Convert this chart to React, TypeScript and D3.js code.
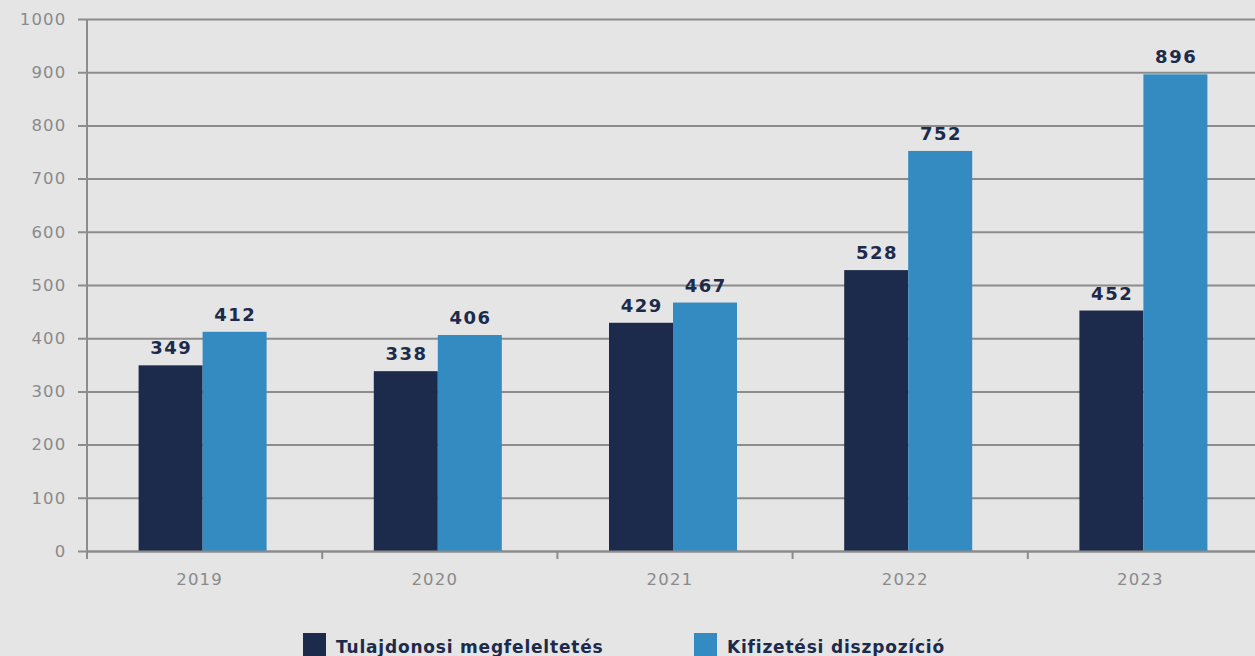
import React, { useEffect, useRef } from 'react';
import * as d3 from 'd3';

const years = ['2019', '2020', '2021', '2022', '2023'];
const ownerMatching = [349, 338, 429, 528, 452];
const paymentDisposition = [412, 406, 467, 752, 896];
const yTicks = [0, 100, 200, 300, 400, 500, 600, 700, 800, 900, 1000];
const seriesNames = ['Tulajdonosi megfeleltetés', 'Kifizetési diszpozíció'];
const seriesColors = ['#1c2a4b', '#348bc1'];

const W = 1255;
const H = 656;

const App: React.FC = () => {
  const svgRef = useRef<SVGSVGElement | null>(null);

  useEffect(() => {
    const svg = d3.select(svgRef.current!);
    svg.selectAll('*').remove();

    const font = '"DejaVu Sans", sans-serif';

    // panel background with rounded corner at bottom left
    svg.append('rect').attr('width', W).attr('height', H).attr('fill', '#ffffff');
    svg
      .append('rect')
      .attr('x', -40)
      .attr('y', -40)
      .attr('width', W + 80)
      .attr('height', H + 40 + 8)
      .attr('rx', 34)
      .attr('fill', '#e5e5e5');

    const left = 87;
    const top = 19;
    const bottom = 551;
    const band = 235.2;

    const x = d3
      .scaleBand<string>()
      .domain(years)
      .range([left, left + band * years.length])
      .paddingInner(0)
      .paddingOuter(0);
    const y = d3.scaleLinear().domain([0, 1000]).range([bottom, top]);

    const gridColor = '#8c8c8c';

    // gridlines + y ticks
    const yAxis = svg
      .append('g')
      .attr('transform', `translate(${left},0)`)
      .call(
        d3
          .axisLeft(y)
          .tickValues(yTicks)
          .tickSize(-(W - left + 10))
          .tickSizeOuter(0)
          .tickFormat((d) => String(d))
      );
    yAxis.select('.domain').remove();
    yAxis.selectAll('.tick line').attr('stroke', gridColor).attr('stroke-width', 2).attr('x1', -9);
    yAxis
      .selectAll('.tick text')
      .attr('fill', '#8a8a8a')
      .attr('font-family', font)
      .attr('font-size', 16.5)
      .attr('letter-spacing', 1.2)
      .attr('x', -20.5);

    // y axis line
    svg
      .append('line')
      .attr('x1', left)
      .attr('x2', left)
      .attr('y1', top)
      .attr('y2', bottom + 8)
      .attr('stroke', gridColor)
      .attr('stroke-width', 2);

    // bars
    const barW = 64;
    const groups = svg
      .selectAll('g.year')
      .data(years)
      .enter()
      .append('g')
      .attr('class', 'year');

    [ownerMatching, paymentDisposition].forEach((vals, si) => {
      groups
        .append('rect')
        .attr('x', (d) => (x(d) as number) + x.bandwidth() / 2 - barW - 2 + si * barW)
        .attr('y', (d, i) => y(vals[i]))
        .attr('width', barW)
        .attr('height', (d, i) => bottom - y(vals[i]))
        .attr('fill', seriesColors[si]);
      groups
        .append('text')
        .attr('x', (d) => (x(d) as number) + x.bandwidth() / 2 - barW - 2 + si * barW + barW / 2)
        .attr('y', (d, i) => y(vals[i]) - 11)
        .attr('dx', 0.75)
        .attr('text-anchor', 'middle')
        .attr('font-family', font)
        .attr('font-weight', 700)
        .attr('font-size', 18)
        .attr('letter-spacing', 1.5)
        .attr('fill', '#1c2a4b')
        .text((d, i) => String(vals[i]));
    });

    // x axis
    const xAxis = svg
      .append('g')
      .attr('transform', `translate(0,${bottom})`)
      .call(d3.axisBottom(x).tickSize(0).tickPadding(22));
    xAxis.select('.domain').attr('stroke', gridColor).attr('stroke-width', 2);
    xAxis
      .selectAll('.tick text')
      .attr('fill', '#8a8a8a')
      .attr('font-family', font)
      .attr('font-size', 16.5)
      .attr('letter-spacing', 1.2)
      .attr('dx', -5);
    years.forEach((yr) => {
      const bx = x(yr) as number;
      svg
        .append('line')
        .attr('x1', bx)
        .attr('x2', bx)
        .attr('y1', bottom)
        .attr('y2', bottom + 8)
        .attr('stroke', gridColor)
        .attr('stroke-width', 2);
    });

    // legend
    const legendX = [303, 694];
    seriesNames.forEach((name, i) => {
      svg
        .append('rect')
        .attr('x', legendX[i])
        .attr('y', 633)
        .attr('width', 23)
        .attr('height', 30)
        .attr('fill', seriesColors[i]);
      svg
        .append('text')
        .attr('x', legendX[i] + 33)
        .attr('y', 653)
        .attr('font-family', font)
        .attr('font-weight', 700)
        .attr('font-size', 17)
        .attr('letter-spacing', 0.8)
        .attr('fill', '#1c2a4b')
        .text(name);
    });
  }, []);

  return (
    <div style={{ position: 'fixed', left: 0, top: 0, width: W, height: H }}>
      <svg ref={svgRef} width={W} height={H} style={{ display: 'block' }} />
    </div>
  );
};

export default App;
